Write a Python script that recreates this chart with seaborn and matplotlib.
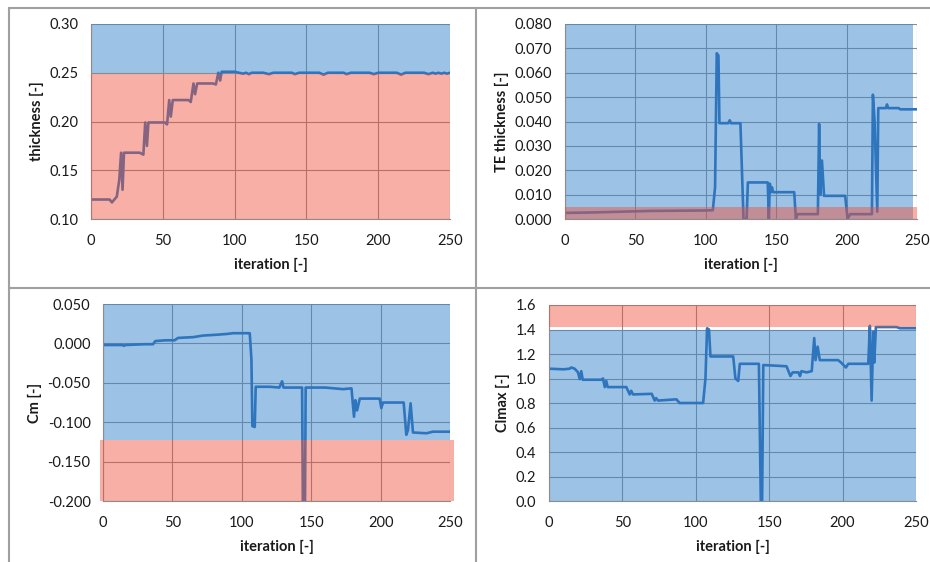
import matplotlib
matplotlib.use('Agg')
import matplotlib.pyplot as plt
import seaborn as sns
from matplotlib.ticker import MultipleLocator, FuncFormatter
from matplotlib.lines import Line2D

# thickness history
th_it = [0, 13, 14.6, 18, 19.7, 21, 22, 23, 34, 36.5, 37.8, 39, 40, 51.5, 53, 54.5, 55.6, 57,
         68, 69.5, 71.4, 72.5, 74, 85, 87, 88.7, 90, 91, 100, 106, 108, 110, 112, 120, 124, 127,
         140, 142, 145, 159, 162, 165, 176, 178, 181, 194, 197, 200, 213, 216, 219, 232, 235,
         238, 240, 242, 244, 246, 248, 250]
th_val = [0.120, 0.120, 0.117, 0.123, 0.140, 0.168, 0.130, 0.168, 0.168, 0.166, 0.199, 0.175,
          0.199, 0.199, 0.197, 0.222, 0.205, 0.222, 0.222, 0.220, 0.239, 0.228, 0.239, 0.239,
          0.238, 0.250, 0.242, 0.251, 0.251, 0.249, 0.250, 0.2485, 0.250, 0.250, 0.2485, 0.250,
          0.250, 0.2485, 0.250, 0.250, 0.248, 0.250, 0.250, 0.2485, 0.250, 0.250, 0.2485, 0.250,
          0.250, 0.248, 0.250, 0.250, 0.2485, 0.250, 0.249, 0.250, 0.249, 0.250, 0.249, 0.250]

# trailing edge thickness history
te_it = [0, 20, 40, 60, 80, 100, 105, 106.6, 107.8, 109, 109.7, 116, 117, 118, 124.6, 126.8,
         129, 129.9, 144, 144.8, 145.5, 146.3, 147, 147.8, 162.8, 164, 165, 179.6, 180.5, 181.3,
         182.5, 184, 199, 200.7, 202.6, 218, 218.7, 219.9, 221.8, 222.5, 228, 228.7, 229.5, 237,
         238, 250]
te_val = [0.0025, 0.0027, 0.0030, 0.0033, 0.0034, 0.0035, 0.0036, 0.013, 0.068, 0.067, 0.0393,
          0.0393, 0.0405, 0.0393, 0.0393, 0.0, 0.0, 0.015, 0.015, 0.0, 0.0145, 0.011, 0.013,
          0.011, 0.011, 0.0, 0.002, 0.002, 0.039, 0.010, 0.024, 0.0095, 0.0095, 0.0, 0.002,
          0.002, 0.051, 0.040, 0.003, 0.0455, 0.0455, 0.047, 0.0455, 0.0455, 0.045, 0.045]

# pitching moment history
cm_it = [0, 14, 15, 16, 30, 36, 37.7, 45, 51.6, 54, 65, 72, 81.6, 89, 93.7, 105.7, 106.9, 107.6,
         109.3, 110, 120, 127, 129, 130, 143.4, 144, 145.5, 146, 160, 173, 179, 180.8, 181.8,
         183, 185, 199.3, 200.5, 201.7, 216.6, 218.5, 219.7, 221.6, 223.3, 233, 237.7, 250]
cm_val = [-0.002, -0.002, -0.003, -0.002, -0.001, -0.001, 0.003, 0.004, 0.004, 0.007, 0.008,
          0.010, 0.011, 0.012, 0.013, 0.013, -0.020, -0.105, -0.106, -0.055, -0.055, -0.056,
          -0.048, -0.056, -0.056, -0.21, -0.21, -0.056, -0.056, -0.058, -0.057, -0.093, -0.072,
          -0.085, -0.070, -0.070, -0.082, -0.075, -0.075, -0.116, -0.110, -0.076, -0.113,
          -0.114, -0.112, -0.112]

# max lift coefficient history
cl_it = [0, 10, 14, 15.2, 17.5, 19.8, 20.9, 22, 23, 35.7, 36.8, 38, 39, 40, 52.7, 55, 56, 57.3,
         70, 72, 73, 74.3, 86.8, 89, 105, 106.6, 107.7, 109, 110, 125.5, 127, 128.9, 130, 143,
         144.3, 145.2, 146, 161.8, 164.5, 166, 170, 171, 172, 175.5, 179, 180.7, 181.6, 183,
         184.5, 197, 199, 202.3, 203.9, 217.5, 218.6, 219.8, 220.9, 221.6, 222.7, 236.8, 239, 250]
cl_val = [1.08, 1.075, 1.08, 1.09, 1.08, 1.05, 0.995, 1.06, 0.99, 0.99, 1.0, 0.93, 0.98, 0.93,
          0.93, 0.87, 0.90, 0.87, 0.875, 0.82, 0.84, 0.82, 0.83, 0.80, 0.80, 1.0, 1.41, 1.40,
          1.18, 1.18, 1.0, 0.98, 1.12, 1.12, 0.0, 0.0, 1.11, 1.10, 1.02, 1.05, 1.05, 1.02, 1.06,
          1.05, 1.06, 1.33, 1.15, 1.26, 1.15, 1.15, 1.13, 1.09, 1.12, 1.12, 1.43, 0.82, 1.38,
          1.13, 1.42, 1.42, 1.41, 1.41]

# feasible (blue) / infeasible (red) regions: (x0, x1, y0, y1)
th_ok, th_bad = (0.5, 250, 0.25, 0.30), (0.3, 250, 0.10, 0.2488)
te_ok, te_bad = (0, 247.5, 0.0, 0.080), (0, 250, 0.0, 0.0049)
cm_ok, cm_bad = (0, 250, -0.123, 0.050), (-2.4, 252.6, -0.200, -0.123)
cl_ok, cl_bad = (0, 250, 0.0, 1.395), (0, 250, 1.42, 1.60)

LINE = '#2e75be'
BLUE = '#3b87cd'
RED = '#f0503a'
GRID = '#8c8c8c'
TXT = '#1a1a1a'

sns.set_style('white')
plt.rcParams['font.family'] = ['Lato', 'DejaVu Sans']

fig = plt.figure(figsize=(9.3, 5.62), dpi=100)


def band(ax, box, color, alpha, z):
    x0, x1, y0, y1 = box
    ax.fill_between([x0, x1], [y0, y0], [y1, y1], color=color, alpha=alpha,
                    lw=0, zorder=z, clip_on=False)


def panel(rect, it, val, ok, bad, ylim, ystep, fmt, ylabel):
    ax = fig.add_axes(rect)
    band(ax, ok, BLUE, 0.5, 1)
    sns.lineplot(x=it, y=val, ax=ax, estimator=None, sort=False, color=LINE, lw=1.9, zorder=2)
    band(ax, bad, RED, 0.45, 3)
    ax.set_xlim(0, 250)
    ax.set_ylim(*ylim)
    ax.xaxis.set_major_locator(MultipleLocator(50))
    ax.yaxis.set_major_locator(MultipleLocator(ystep))

    def f(v, p):
        if abs(v) < 1e-9:
            v = 0.0
        return fmt.format(v)
    ax.yaxis.set_major_formatter(FuncFormatter(f))
    ax.grid(True, color=GRID, lw=0.8)
    ax.set_axisbelow(True)
    for s in ['top', 'right']:
        ax.spines[s].set_visible(False)
    for s in ['left', 'bottom']:
        ax.spines[s].set_color(GRID)
        ax.spines[s].set_linewidth(0.8)
    ax.tick_params(direction='out', length=4, width=0.8, color=GRID, labelsize=10.5,
                   labelcolor=TXT, pad=5)
    ax.tick_params(axis='x', pad=7)
    ax.set_xlabel('iteration [-]', fontweight='bold', fontsize=10.5, color=TXT, labelpad=7)
    ax.set_ylabel(ylabel, fontweight='bold', fontsize=10.5, color=TXT, labelpad=4)
    return ax


panel([0.0978, 0.6103, 0.3860, 0.3470], th_it, th_val, th_ok, th_bad,
      (0.10, 0.30), 0.05, '{:.2f}', 'thickness [-]')
panel([0.6075, 0.6103, 0.3785, 0.3470], te_it, te_val, te_ok, te_bad,
      (0.0, 0.080), 0.010, '{:.3f}', 'TE thickness [-]')
panel([0.1108, 0.1085, 0.3731, 0.3505], cm_it, cm_val, cm_ok, cm_bad,
      (-0.200, 0.050), 0.050, '{:.3f}', 'Cm [-]')
panel([0.5903, 0.1085, 0.3946, 0.3488], cl_it, cl_val, cl_ok, cl_bad,
      (0.0, 1.6), 0.2, '{:.1f}', 'Clmax [-]')

# panel frame lines
BORDER = '#a0a0a0'
fig.add_artist(Line2D([0.0097, 0.0097], [0, 0.9858], color=BORDER, lw=1.5))
fig.add_artist(Line2D([0.0097, 1], [0.9858, 0.9858], color=BORDER, lw=1.5))
fig.add_artist(Line2D([0.5118, 0.5118], [0, 0.9858], color=BORDER, lw=1.5))
fig.add_artist(Line2D([0.0097, 1], [0.4875, 0.4875], color=BORDER, lw=1.5))

fig.savefig('out.png', dpi=100)
